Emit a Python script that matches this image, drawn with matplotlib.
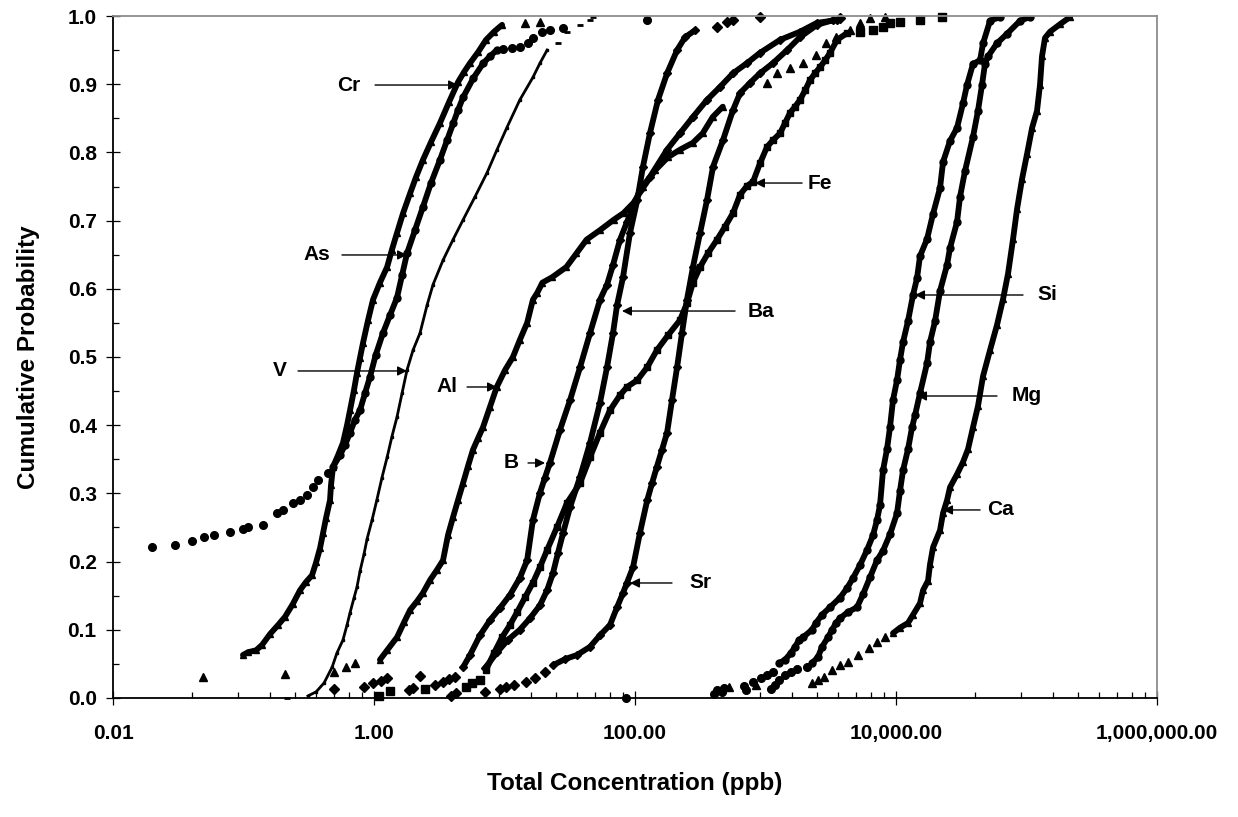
"""Cumulative probability curves of total concentration for several elements."""

import matplotlib

matplotlib.use("Agg")

import matplotlib.pyplot as plt
from matplotlib.ticker import (FixedLocator, FuncFormatter, LogLocator,
                               MultipleLocator, NullFormatter)

plt.rcParams["font.family"] = ["Liberation Sans", "DejaVu Sans"]
plt.rcParams["font.weight"] = "bold"

# ---------------------------------------------------------------------------
# Data (ppb, cumulative probability).
# "*_x / *_y" is the dense run of each curve, "*_sx / *_sy" the loose points.
# ---------------------------------------------------------------------------

cr_x = [0.099, 0.108, 0.125, 0.139, 0.160, 0.184, 0.208, 0.239, 0.271, 0.301,
        0.335, 0.360, 0.386, 0.407, 0.429, 0.460, 0.468, 0.485, 0.530, 0.578,
        0.621, 0.655, 0.703, 0.741, 0.781, 0.824, 0.900, 0.982, 1.11, 1.26,
        1.37, 1.50, 1.67, 1.89, 2.10, 2.37, 2.73, 3.20, 3.76, 4.40,
        4.90, 5.44, 6.27, 7.21, 8.31, 9.57]
cr_y = [0.063, 0.067, 0.070, 0.078, 0.094, 0.107, 0.119, 0.138, 0.158, 0.170,
        0.180, 0.199, 0.220, 0.242, 0.264, 0.290, 0.312, 0.339, 0.356, 0.374,
        0.400, 0.422, 0.452, 0.477, 0.499, 0.521, 0.554, 0.584, 0.609, 0.632,
        0.657, 0.682, 0.711, 0.740, 0.764, 0.789, 0.815, 0.843, 0.874, 0.903,
        0.918, 0.931, 0.947, 0.965, 0.977, 0.987]
cr_sx = [0.049, 14.4, 18.7]
cr_sy = [0.031, 0.990, 0.991]

as_x = [0.485, 0.549, 0.600, 0.655, 0.715, 0.781, 0.853, 0.932, 1.03, 1.17,
        1.33, 1.50, 1.64, 1.79, 2.06, 2.37, 2.73, 3.20, 3.63, 4.05,
        4.40, 4.82, 5.77, 6.88, 7.74, 8.72]
as_y = [0.339, 0.356, 0.371, 0.389, 0.408, 0.422, 0.447, 0.471, 0.503, 0.535,
        0.562, 0.587, 0.620, 0.652, 0.686, 0.720, 0.755, 0.789, 0.818, 0.843,
        0.862, 0.881, 0.909, 0.931, 0.941, 0.950]
as_sx = [0.0199, 0.0299, 0.0403, 0.0498, 0.0594, 0.0788, 0.099, 0.108, 0.141,
         0.181, 0.201, 0.239, 0.271, 0.307, 0.341, 0.372, 0.444,
         9.75, 11.4, 13.1, 15.2, 16.5, 19.5, 22.3, 28.0, 124]
as_sy = [0.221, 0.224, 0.230, 0.236, 0.239, 0.243, 0.248, 0.251, 0.254,
         0.271, 0.276, 0.286, 0.290, 0.298, 0.309, 0.320, 0.330,
         0.951, 0.953, 0.955, 0.960, 0.968, 0.977, 0.979, 0.982, 0.994]

v_x = [0.312, 0.360, 0.414, 0.477, 0.520, 0.578, 0.621, 0.655, 0.703, 0.741,
       0.781, 0.838, 0.884, 0.966, 1.05, 1.15, 1.26, 1.37, 1.50, 1.64,
       1.79, 1.99, 2.25, 2.55, 2.83, 3.38, 4.03, 4.81, 5.94, 7.34,
       8.76, 10.4, 13.1, 16.5, 18.7, 21.2]
v_y = [0.003, 0.009, 0.022, 0.045, 0.066, 0.085, 0.107, 0.125, 0.147, 0.163,
       0.186, 0.211, 0.233, 0.261, 0.290, 0.323, 0.353, 0.383, 0.412, 0.447,
       0.481, 0.510, 0.535, 0.576, 0.606, 0.642, 0.672, 0.701, 0.735, 0.770,
       0.804, 0.836, 0.877, 0.910, 0.931, 0.950]
v_sx = [0.215, 25.7, 30.1, 37.9, 45.2, 47.7]
v_sy = [0.0, 0.960, 0.976, 0.987, 0.994, 0.998]

al_x = [1.11, 1.26, 1.50, 1.70, 1.89, 2.14, 2.37, 2.69, 3.04, 3.38,
        3.69, 4.03, 4.40, 4.81, 5.25, 5.73, 6.27, 6.84, 7.74, 8.72,
        10.1, 11.6, 13.1, 14.9, 16.5, 17.8, 19.5, 23.2, 29.8, 35.6,
        42.5, 53.9, 68.4, 81.6, 97.3, 116, 143, 179, 221, 277,
        330, 394, 470]
al_y = [0.056, 0.070, 0.089, 0.111, 0.129, 0.142, 0.154, 0.173, 0.188, 0.202,
        0.239, 0.265, 0.290, 0.315, 0.340, 0.364, 0.381, 0.397, 0.427, 0.456,
        0.481, 0.500, 0.525, 0.550, 0.584, 0.594, 0.609, 0.617, 0.632, 0.652,
        0.672, 0.686, 0.701, 0.711, 0.726, 0.749, 0.774, 0.793, 0.804, 0.814,
        0.828, 0.852, 0.867]
al_sx = [0.208, 0.494, 0.610, 0.716, 1026, 1224, 1540, 1940, 2440, 2920,
         3490, 4440, 5300, 6320, 8300]
al_sy = [0.035, 0.038, 0.045, 0.051, 0.902, 0.916, 0.924, 0.931, 0.943, 0.960,
         0.969, 0.979, 0.990, 0.997, 0.999]

b_x = [4.81, 5.44, 6.49, 7.74, 9.24, 11.0, 13.1, 14.9, 16.5, 18.7,
       20.4, 22.3, 26.6, 31.8, 37.9, 45.2, 53.9, 61.0, 67.8, 76.7,
       86.8, 96.6, 109, 130, 176, 221, 278, 356, 448, 563,
       722, 907, 1291, 1837, 2480, 3530]
b_y = [0.045, 0.063, 0.092, 0.114, 0.132, 0.151, 0.176, 0.202, 0.261, 0.301,
       0.323, 0.345, 0.393, 0.437, 0.485, 0.535, 0.584, 0.606, 0.635, 0.672,
       0.698, 0.720, 0.745, 0.764, 0.804, 0.828, 0.852, 0.877, 0.896, 0.916,
       0.931, 0.946, 0.965, 0.977, 0.990, 0.994]
b_sx = [1.85, 1.99, 2.93, 3.38, 3.76, 4.18, 3720]
b_sy = [0.012, 0.015, 0.019, 0.023, 0.028, 0.031, 0.997]

ba_x = [7.10, 8.77, 10.6, 13.1, 15.7, 18.7, 21.2, 23.5, 25.7, 28.1,
        31.8, 37.9, 45.2, 53.9, 61.0, 67.8, 72.8, 80.9, 91.5, 104,
        115, 130, 150, 176, 210, 242, 288]
ba_y = [0.044, 0.067, 0.085, 0.100, 0.117, 0.136, 0.158, 0.183, 0.213, 0.242,
        0.280, 0.324, 0.374, 0.433, 0.485, 0.535, 0.576, 0.617, 0.682, 0.730,
        0.779, 0.828, 0.877, 0.916, 0.950, 0.969, 0.979]
ba_sx = [0.493, 0.838, 0.982, 1.13, 1.26, 2.25, 425, 507, 563, 907]
ba_sy = [0.013, 0.016, 0.022, 0.025, 0.029, 0.032, 0.984, 0.991, 0.994, 0.998]

fe_x = [7.21, 8.31, 9.57, 11.0, 12.5, 14.4, 16.5, 18.7, 21.2, 25.3,
        30.1, 37.9, 45.2, 53.9, 64.3, 76.7, 86.8, 104, 124, 147,
        179, 221, 250, 278, 315, 362, 425, 489, 563, 638,
        722, 802, 907, 1026, 1141, 1291, 1410, 1540, 1683, 1837,
        2009, 2192, 2395, 2615, 2860, 3120, 3530, 4220]
fe_y = [0.041, 0.066, 0.089, 0.107, 0.126, 0.148, 0.169, 0.192, 0.217, 0.251,
        0.286, 0.315, 0.353, 0.389, 0.422, 0.444, 0.456, 0.466, 0.485, 0.510,
        0.532, 0.554, 0.579, 0.609, 0.632, 0.652, 0.672, 0.691, 0.711, 0.738,
        0.751, 0.757, 0.784, 0.808, 0.818, 0.828, 0.843, 0.858, 0.867, 0.877,
        0.891, 0.906, 0.916, 0.925, 0.935, 0.946, 0.965, 0.975]
fe_sx = [1.09, 1.33, 2.46, 5.07, 5.64, 6.49, 5300, 6670, 7950, 8990, 10700,
         15300, 22500]
fe_sy = [0.003, 0.010, 0.013, 0.016, 0.022, 0.026, 0.976, 0.979, 0.984, 0.990,
         0.991, 0.994, 0.998]

sr_x = [23.5, 29.1, 35.9, 45.2, 53.9, 64.3, 72.8, 80.9, 86.8, 96.6,
        109, 124, 135, 147, 161, 176, 192, 210, 229, 250,
        278, 315, 356, 396, 472, 563, 638, 761, 907, 1141,
        1462, 1837, 2480, 3290]
sr_y = [0.048, 0.057, 0.063, 0.075, 0.092, 0.107, 0.133, 0.154, 0.169, 0.192,
        0.242, 0.290, 0.315, 0.339, 0.364, 0.389, 0.437, 0.485, 0.535, 0.584,
        0.632, 0.682, 0.730, 0.779, 0.818, 0.862, 0.887, 0.902, 0.916, 0.931,
        0.950, 0.969, 0.987, 0.994]
sr_sx = [3.89, 4.25, 7.10, 9.24, 10.3, 11.8, 14.6, 17.1, 20.4]
sr_sy = [0.003, 0.007, 0.009, 0.013, 0.016, 0.019, 0.023, 0.029, 0.038]

si_x = [1268, 1410, 1567, 1683, 1806, 1938, 2270, 2436, 2709, 3120,
        3722, 4213, 4686, 5300, 5997, 6670, 7150, 7540, 7950, 8530,
        8990, 9480, 10180, 10730, 11320, 12360, 13500, 14490, 15270, 17290,
        19220, 21740, 22920, 25930, 29330, 32610, 35000, 38910, 44030, 46430,
        52520, 62660]
si_y = [0.051, 0.056, 0.066, 0.075, 0.085, 0.089, 0.100, 0.110, 0.122, 0.133,
        0.147, 0.161, 0.176, 0.195, 0.217, 0.239, 0.261, 0.283, 0.334, 0.365,
        0.397, 0.437, 0.466, 0.496, 0.522, 0.553, 0.591, 0.616, 0.648, 0.673,
        0.710, 0.748, 0.786, 0.817, 0.836, 0.872, 0.899, 0.930, 0.935, 0.960,
        0.993, 0.9985]
si_sx = [85, 403, 425, 481, 684, 802, 924, 1026, 1141]
si_sy = [0.0, 0.006, 0.012, 0.015, 0.018, 0.023, 0.029, 0.034, 0.038]

mg_x = [2270, 2524, 2709, 3012, 3236, 3468, 3722, 4287, 5023, 5586,
        6320, 7150, 7950, 8990, 10180, 10730, 11320, 12360, 13270, 14000,
        15270, 17290, 18220, 19920, 21740, 24600, 25930, 29330, 30940, 33790,
        38910, 42460, 45580, 48060, 50720, 59400, 70900, 89200, 106000]
mg_y = [0.051, 0.060, 0.075, 0.089, 0.100, 0.110, 0.117, 0.126, 0.133, 0.152,
        0.177, 0.202, 0.216, 0.240, 0.271, 0.304, 0.334, 0.365, 0.397, 0.415,
        0.447, 0.491, 0.522, 0.553, 0.597, 0.635, 0.660, 0.698, 0.735, 0.773,
        0.823, 0.861, 0.899, 0.930, 0.941, 0.960, 0.974, 0.993, 0.9985]
mg_sx = [464, 710, 1102, 1183, 1268, 1410, 1567, 1742, 2078]
mg_sy = [0.009, 0.012, 0.013, 0.019, 0.026, 0.034, 0.038, 0.043, 0.045]

ca_x = [9480, 10730, 12360, 13500, 15270, 16110, 17590, 18220, 19220, 21740,
        22920, 24600, 25930, 29330, 32610, 35630, 38910, 42460, 46430, 52520,
        59400, 66100, 72140, 78840, 84600, 92400, 101000, 110300, 120300, 126800,
        131400, 138600, 151400, 180600, 215500]
ca_y = [0.095, 0.103, 0.110, 0.122, 0.139, 0.158, 0.172, 0.196, 0.221, 0.246,
        0.271, 0.290, 0.309, 0.328, 0.346, 0.365, 0.397, 0.428, 0.472, 0.510,
        0.547, 0.585, 0.622, 0.673, 0.717, 0.761, 0.798, 0.836, 0.861, 0.899,
        0.941, 0.968, 0.977, 0.988, 0.9985]
ca_sx = [525, 845, 2270, 2524, 2805, 3236, 3722, 4287, 5114, 6208, 7150, 8240]
ca_sy = [0.016, 0.019, 0.022, 0.026, 0.031, 0.041, 0.048, 0.053, 0.063, 0.073,
         0.082, 0.089]

# Label text position and arrow ends, in axes fraction: (text x, y, tail x, tip x)
LABELS = [
    ("Cr", 0.2261, 0.8988, 0.2510, 0.3305),
    ("As", 0.1954, 0.6496, 0.2193, 0.2816),
    ("V", 0.1600, 0.4795, 0.1772, 0.2816),
    ("Al", 0.3199, 0.4560, 0.3391, 0.3678),
    ("B", 0.3812, 0.3446, 0.3975, 0.4138),
    ("Ba", 0.6207, 0.5674, 0.5958, 0.4875),
    ("Fe", 0.6772, 0.7551, 0.6600, 0.6149),
    ("Sr", 0.5623, 0.1686, 0.5354, 0.4952),
    ("Si", 0.8946, 0.5909, 0.8716, 0.7682),
    ("Mg", 0.8755, 0.4428, 0.8467, 0.7701),
    ("Ca", 0.8496, 0.2757, 0.8305, 0.7950),
]


def draw_curve(ax, x, y, sx, sy, marker, lw=4.2, ms=5.0, sms=5.5):
    """Dense run as a thick marker trail, loose points as plain markers."""
    ax.plot(x, y, color="black", lw=lw, marker=marker, ms=ms,
            solid_joinstyle="round", solid_capstyle="round")
    ax.plot(sx, sy, ls="none", color="black", marker=marker, ms=sms,
            clip_on=False)


fig = plt.figure(figsize=(12.38, 8.17), dpi=100)
ax = fig.add_axes([0.0913, 0.1457, 0.8433, 0.8347])

draw_curve(ax, cr_x, cr_y, cr_sx, cr_sy, "^", sms=6.0)
draw_curve(ax, as_x, as_y, as_sx, as_sy, "o")
ax.plot(v_x, v_y, color="black", lw=2.0, marker="s", ms=1.8)
ax.plot(v_sx, v_sy, ls="none", color="black", marker="_", ms=5, mew=2,
        clip_on=False)
draw_curve(ax, al_x, al_y, al_sx, al_sy, "^", sms=6.0)
draw_curve(ax, b_x, b_y, b_sx, b_sy, "D", ms=4.2, sms=4.6)
draw_curve(ax, ba_x, ba_y, ba_sx, ba_sy, "D", ms=4.2, sms=4.6)
draw_curve(ax, fe_x, fe_y, fe_sx, fe_sy, "s", sms=5.2)
draw_curve(ax, sr_x, sr_y, sr_sx, sr_sy, "D", ms=4.2, sms=4.6)
draw_curve(ax, si_x, si_y, si_sx, si_sy, "o")
draw_curve(ax, mg_x, mg_y, mg_sx, mg_sy, "o")
draw_curve(ax, ca_x, ca_y, ca_sx, ca_sy, "^", sms=6.0)

for name, tx, ty, tail, tip in LABELS:
    ax.text(tx, ty, name, transform=ax.transAxes, ha="center", va="center",
            fontsize=15, fontweight="bold")
    ax.annotate("", xy=(tip, ty), xytext=(tail, ty),
                xycoords="axes fraction", textcoords="axes fraction",
                arrowprops=dict(arrowstyle="-|>", color="black", lw=1.0,
                                shrinkA=0, shrinkB=0, mutation_scale=14))

# Axes: log base-100 x axis like the spreadsheet original
ax.set_xscale("log", base=100)
ax.set_xlim(0.01, 1e6)
ax.set_ylim(0.0, 1.0)
ax.xaxis.set_major_locator(FixedLocator([0.01, 1, 100, 1e4, 1e6]))
ax.xaxis.set_minor_locator(LogLocator(base=100, subs=[4, 9, 16, 25, 36, 49, 64, 81]))
ax.xaxis.set_major_formatter(FuncFormatter(lambda v, pos: f"{v:,.2f}"))
ax.xaxis.set_minor_formatter(NullFormatter())
ax.yaxis.set_major_locator(MultipleLocator(0.1))
ax.yaxis.set_minor_locator(MultipleLocator(0.05))
ax.yaxis.set_major_formatter(FuncFormatter(lambda v, pos: f"{v:.1f}"))

ax.tick_params(which="major", direction="inout", length=9.5, width=0.9,
               labelsize=15)
ax.tick_params(which="minor", direction="in", length=4.5, width=0.9)
ax.tick_params(axis="x", which="major", pad=14)
ax.tick_params(axis="y", which="major", pad=7)
ax.tick_params(top=False, right=False, which="both")
for lab in ax.get_xticklabels() + ax.get_yticklabels():
    lab.set_fontweight("bold")

for side in ("left", "bottom"):
    ax.spines[side].set_color("black")
    ax.spines[side].set_linewidth(1.3)
for side in ("top", "right"):
    ax.spines[side].set_color("#8c8c8c")
    ax.spines[side].set_linewidth(1.3)

ax.set_xlabel("Total Concentration (ppb)", fontsize=17.5, fontweight="bold",
              labelpad=21)
ax.set_ylabel("Cumulative Probability", fontsize=17.5, fontweight="bold",
              labelpad=20)

fig.savefig("out.png", dpi=100)
plt.close(fig)
